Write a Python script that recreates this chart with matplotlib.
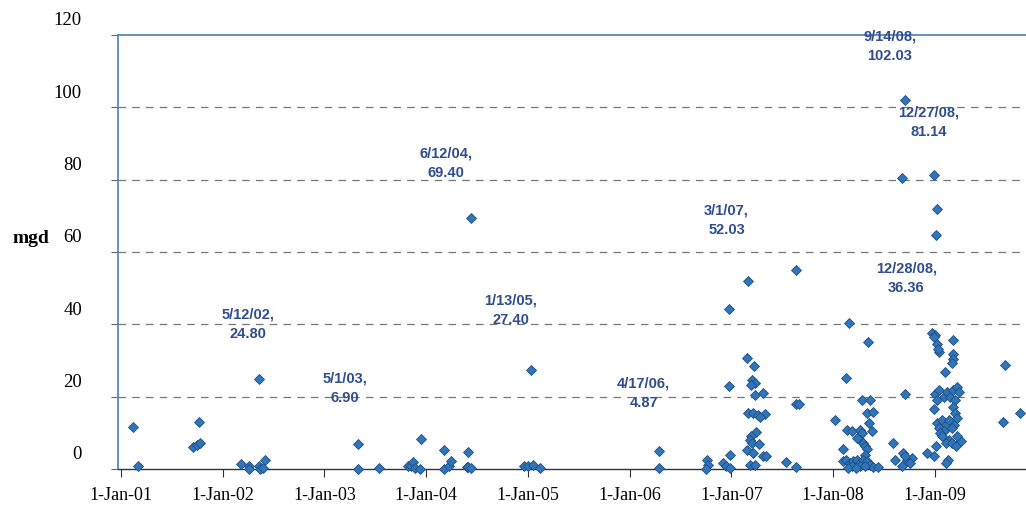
import matplotlib
matplotlib.use("Agg")
import matplotlib.pyplot as plt
import matplotlib.dates as mdates
import matplotlib.transforms as mtransforms
import pandas as pd

dates = [
    "2001-02-14", "2001-03-04", "2001-09-17", "2001-09-29", "2001-10-11", "2001-10-08",
    "2002-03-09", "2002-04-05", "2002-04-06", "2002-05-12", "2002-05-10", "2002-05-14",
    "2002-05-26", "2002-06-01",
    "2003-05-01", "2003-05-01", "2003-07-16", "2003-10-28", "2003-11-09", "2003-11-15",
    "2003-11-21", "2003-12-09", "2003-12-15",
    "2004-03-05", "2004-03-05", "2004-03-23", "2004-04-01", "2004-06-01", "2004-05-26",
    "2004-06-01", "2004-06-09", "2004-06-12", "2004-12-16",
    "2005-01-02", "2005-01-13", "2005-01-20", "2005-02-13",
    "2006-04-17", "2006-04-17", "2006-10-04", "2006-10-10", "2006-10-02", "2006-12-03",
    "2006-12-12", "2006-12-29", "2006-12-27", "2006-12-25", "2006-12-24",
    "2007-03-01", "2007-02-27", "2007-03-23", "2007-03-18", "2007-03-26", "2007-03-14",
    "2007-03-26", "2007-04-23", "2007-03-02", "2007-03-20", "2007-04-07", "2007-05-01",
    "2007-04-13", "2007-04-01", "2007-03-14", "2007-03-08", "2007-03-15", "2007-02-25",
    "2007-03-20", "2007-04-10", "2007-04-24", "2007-05-06", "2007-03-08", "2007-03-26",
    "2007-08-23", "2007-08-23", "2007-09-01", "2007-07-18", "2007-08-23",
    "2008-01-08", "2008-02-28", "2008-05-07", "2008-02-16", "2008-04-13", "2008-05-13",
    "2008-05-01", "2008-05-25", "2008-05-10", "2008-02-21", "2008-03-08", "2008-04-07",
    "2008-04-13", "2008-04-07", "2008-04-19", "2008-04-25", "2008-05-01", "2008-02-06",
    "2008-05-19", "2008-03-26", "2008-04-25",
    "2008-02-06", "2008-02-18", "2008-03-01", "2008-03-13", "2008-03-26", "2008-04-07",
    "2008-04-19", "2008-05-01", "2008-05-13", "2008-05-25", "2008-06-12", "2008-03-08",
    "2008-04-07", "2008-04-25", "2008-02-24", "2008-03-24",
    "2008-08-05", "2008-09-16", "2008-08-11", "2008-09-10", "2008-09-23", "2008-10-10",
    "2008-09-04", "2008-10-02", "2008-09-14", "2008-09-04", "2008-12-27",
    "2009-01-10", "2009-01-04", "2009-09-10", "2009-11-03", "2009-09-02",
    "2008-12-21", "2009-01-03", "2008-12-28", "2009-01-09", "2009-01-15", "2009-01-12",
    "2009-03-06", "2009-03-06", "2009-03-08", "2009-03-02", "2009-02-06",
    "2009-01-01", "2009-01-17", "2009-02-01", "2009-02-13", "2009-02-25", "2009-03-08",
    "2009-03-21", "2009-03-30", "2009-03-15", "2009-01-09",
    "2008-12-27", "2009-03-08", "2009-03-15",
    "2009-01-09", "2009-01-27", "2009-02-08", "2009-02-20", "2009-03-10", "2009-03-22",
    "2009-01-15", "2009-02-02", "2009-03-04",
    "2009-01-21", "2009-01-27", "2009-02-20", "2009-02-08", "2009-03-04", "2009-03-16",
    "2009-04-03", "2009-03-22",
    "2008-12-03", "2008-12-27", "2009-01-06", "2009-02-17", "2009-02-11", "2008-09-16",
]
values = [
    11.7, 0.7, 6.2, 6.7, 7.1, 12.9,
    1.4, 0.7, 0.1, 24.8, 0.7, 0.1,
    0.2, 2.6,
    6.9, 0.1, 0.3, 0.7, 0.7, 1.8,
    0.3, 0.1, 8.4,
    5.3, 0.1, 0.7, 2.1, 4.6, 0.5,
    0.6, 0.4, 69.4, 0.7,
    0.9, 27.4, 1.2, 0.3,
    4.87, 0.3, 2.6, 1.2, 0.1, 1.7,
    0.9, 3.9, 0.3, 22.8, 44.1,
    52.03, 30.6, 28.6, 24.5, 23.7, 23.2,
    20.4, 20.9, 15.4, 15.4, 15.0, 15.2,
    14.5, 10.1, 9.0, 8.1, 7.2, 5.3,
    4.4, 7.0, 3.5, 3.5, 1.2, 1.2,
    55.0, 18.1, 17.9, 1.8, 0.6,
    13.6, 40.4, 35.0, 25.2, 19.1, 19.2,
    15.6, 15.8, 12.7, 10.8, 10.6, 10.8,
    9.9, 8.1, 7.2, 6.3, 5.6, 5.4,
    10.4, 8.6, 4.0,
    2.1, 2.6, 1.7, 2.1, 2.6, 1.7,
    2.4, 2.1, 1.2, 0.6, 0.6, 0.7,
    0.7, 0.9, 0.3, 0.4,
    7.2, 20.8, 2.6, 4.4, 2.6, 3.0,
    0.7, 1.7, 102.03, 80.4, 81.14,
    71.8, 64.8, 28.7, 15.4, 13.1,
    37.6, 37.0, 36.36, 34.6, 32.4, 33.3,
    35.7, 31.8, 30.5, 29.2, 26.9,
    20.8, 21.7, 20.0, 21.4, 20.0, 21.7,
    22.6, 21.4, 19.1, 19.1,
    16.5, 17.1, 15.4,
    12.7, 13.6, 12.2, 13.6, 12.2, 14.0,
    11.3, 10.4, 11.3,
    9.9, 9.0, 8.1, 7.2, 7.2, 6.3,
    7.7, 9.0,
    4.4, 3.5, 6.3, 2.6, 1.7, 3.5,
]

label_texts = ["5/12/02,\n24.80", "5/1/03,\n6.90", "6/12/04,\n69.40", "1/13/05,\n27.40",
               "4/17/06,\n4.87", "3/1/07,\n52.03", "9/14/08,\n102.03", "12/27/08,\n81.14",
               "12/28/08,\n36.36"]
# label text anchor positions (date, value) in data coords
label_pos_dates = ["2002-04-03", "2003-03-16", "2004-03-14", "2004-10-30", "2006-02-20",
                   "2006-12-15", "2008-07-23", "2008-12-09", "2008-09-20"]
label_pos_vals = [44.6, 27.0, 89.0, 48.4, 25.5, 73.5, 121.4, 100.6, 57.4]

y_ticks = [0, 20, 40, 60, 80, 100, 120]
x_ticks = ["2001-01-01", "2002-01-01", "2003-01-01", "2004-01-01", "2005-01-01",
           "2006-01-01", "2007-01-01", "2008-01-01", "2009-01-01"]
x_tick_labels = ["1-Jan-01", "1-Jan-02", "1-Jan-03", "1-Jan-04", "1-Jan-05",
                 "1-Jan-06", "1-Jan-07", "1-Jan-08", "1-Jan-09"]

fig = plt.figure(figsize=(10.26, 5.12), dpi=100)
ax = fig.add_axes([0.115, 0.084, 0.885, 0.848])

ax.plot(pd.to_datetime(dates), values, linestyle="none", marker="D", markersize=5,
        markerfacecolor="#2F75B8", markeredgecolor="#1F4E85", markeredgewidth=0.6,
        clip_on=False, zorder=3)

ax.set_xlim(pd.Timestamp("2000-12-21"), pd.Timestamp("2009-11-24"))
ax.set_ylim(0, 120)

ax.set_yticks(y_ticks)
ax.set_yticklabels([str(v) for v in y_ticks], family="Liberation Serif", fontsize=13.5)
ax.set_xticks(pd.to_datetime(x_ticks))
ax.set_xticklabels(x_tick_labels, family="Liberation Serif", fontsize=13)

ax.tick_params(axis="y", length=5, color="#666666", pad=21)
ax.tick_params(axis="x", length=6, color="#333333", pad=7)
offset = mtransforms.ScaledTranslation(0, 16 / 100, fig.dpi_scale_trans)
for lab in ax.get_yticklabels():
    lab.set_transform(lab.get_transform() + offset)

for v in y_ticks[1:-1]:
    ax.axhline(v, color="#777777", linestyle=(0, (6, 5)), linewidth=0.9, zorder=1)

ax.spines["right"].set_visible(False)
ax.spines["left"].set_color("#4A7EC0")
ax.spines["top"].set_color("#4A7EC0")
ax.spines["left"].set_linewidth(1.2)
ax.spines["top"].set_linewidth(1.2)
ax.spines["bottom"].set_color("#333333")
ax.spines["bottom"].set_linewidth(1.0)

for d, v, t in zip(label_pos_dates, label_pos_vals, label_texts):
    ax.text(pd.Timestamp(d), v, t, ha="center", va="top", fontsize=10.5, fontweight="bold",
            color="#2F4D8F", family="Liberation Sans", linespacing=1.5, zorder=4,
            clip_on=False)

fig.text(0.03, 0.535, "mgd", family="Liberation Serif", fontweight="bold", fontsize=14,
         ha="center", va="center")

fig.savefig("out.png", dpi=100)
